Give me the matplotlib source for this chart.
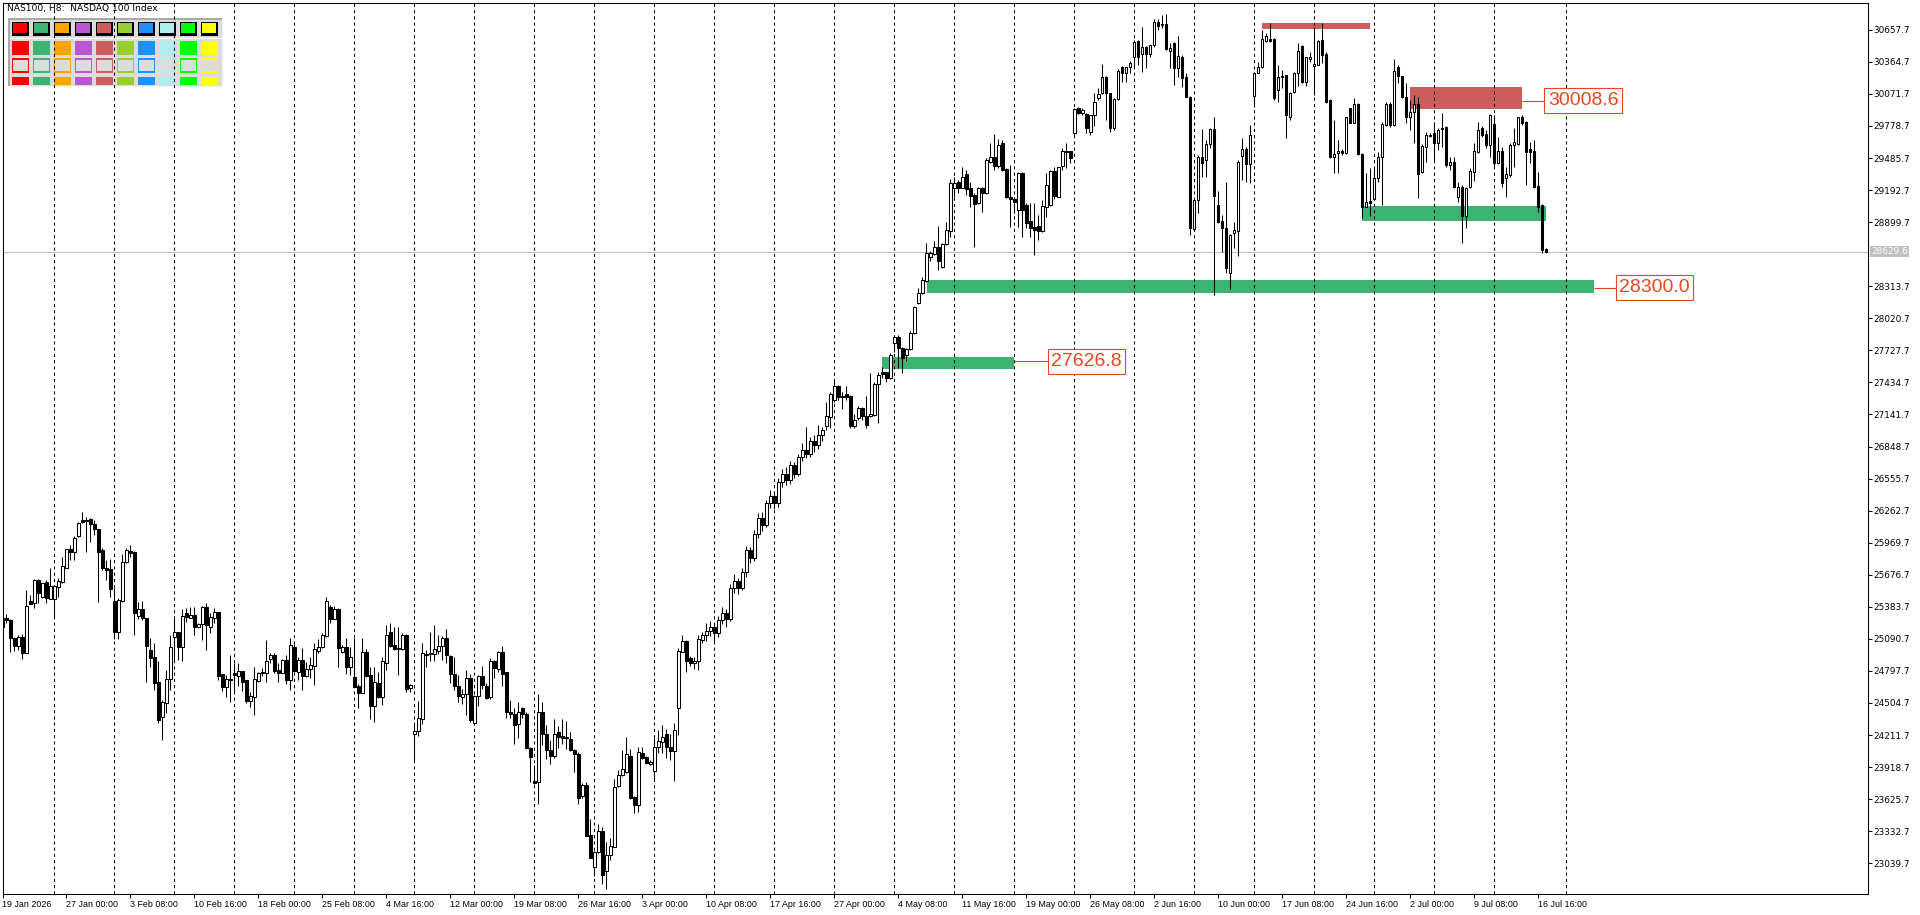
import numpy as np
import matplotlib
matplotlib.use("Agg")
import matplotlib.pyplot as plt
from matplotlib.patches import Rectangle
from matplotlib.transforms import blended_transform_factory

W, H, DPI = 1920, 915, 100

# ---------------- data (H8 candles, NAS100) ----------------
opens = [
25279, 25279, 25263, 25096, 25029, 25111, 24965, 25434, 25416, 25629,
25471, 25614, 25458, 25458, 25568, 25614, 25742, 25909, 25888, 26031,
26177, 26177, 26183, 26138, 26092, 25903, 25736, 25726, 25440, 25157,
25440, 25796, 25897, 25888, 25300, 25361, 25285, 24989, 24922, 24697,
24374, 24508, 24727, 25111, 25157, 25013, 25330, 25285, 25312, 25202,
25224, 25385, 25202, 25279, 25333, 24770, 24654, 24715, 24779, 24751,
24797, 24715, 24526, 24562, 24709, 24776, 24782, 24904, 24943, 24806,
24782, 24898, 24715, 25020, 24791, 24898, 24754, 24812, 24846, 24983,
25013, 25120, 25385, 25272, 25364, 24974, 25013, 24837, 24745, 24660,
24599, 24974, 24760, 24480, 24684, 24562, 24873, 25150, 25035, 25004,
24995, 25123, 24639, 24218, 24251, 24358, 24957, 24950, 24957, 24984,
25024, 25100, 24934, 24767, 24661, 24557, 24584, 24734, 24318, 24567,
24751, 24657, 24557, 24890, 24817, 24974, 24784, 24424, 24407, 24311,
24458, 24407, 24091, 23791, 23785, 24424, 24218, 24074, 24024, 24241,
24201, 24194, 24178, 24074, 24041, 23658, 23752, 23295, 23002, 23145,
23335, 22969, 23119, 23192, 23742, 23845, 23878, 24024, 23642, 23568,
24051, 24008, 23951, 23885, 24101, 24151, 24218, 24101, 24068, 24458,
24974, 25067, 24917, 24867, 24884, 25084, 25123, 25167, 25200, 25140,
25260, 25330, 25270, 25560, 25620, 25560, 25700, 25900, 25830, 26050,
26200, 26130, 26330, 26400, 26330, 26520, 26600, 26540, 26680, 26600,
26750, 26820, 26780, 26900, 26860, 26950, 27036, 27121, 27274, 27405,
27304, 27325, 27310, 27036, 27112, 27197, 27127, 27130, 27136, 27420,
27526, 27526, 27472, 27798, 27846, 27752, 27685, 27737, 27883, 28157,
28249, 28364, 28578, 28608, 28669, 28486, 28700, 28821, 29214, 29266,
29214, 29339, 29208, 29148, 29071, 29215, 29163, 29452, 29498, 29416,
29620, 29385, 29126, 29108, 29010, 29352, 29056, 28913, 28858, 28867,
28822, 29041, 29056, 29367, 29132, 29416, 29544, 29553, 29712, 29940,
29894, 29888, 29726, 29879, 30037, 30077, 30229, 30077, 29757, 30022,
30315, 30266, 30315, 30406, 30558, 30433, 30503, 30433, 30519, 30726,
30701, 30711, 30467, 30540, 30305, 30412, 30223, 30046, 28834, 29102,
29492, 29467, 29614, 29748, 29056, 28913, 28843, 28438, 28797, 28822,
29504, 29565, 29431, 30056, 30266, 30321, 30558, 30570, 30570, 30107,
30235, 30241, 29864, 30092, 30260, 30510, 30184, 30391, 30327, 30336,
30564, 30436, 30016, 29498, 29534, 29553, 29528, 29940, 29809, 29979,
29522, 29041, 29093, 29108, 29300, 29492, 29788, 29979, 29788, 30315,
30235, 30046, 29863, 29904, 29979, 29361, 29589, 29693, 29712, 29626,
29748, 29772, 29422, 29447, 29132, 29224, 28959, 29224, 29361, 29544,
29757, 29705, 29605, 29797, 29443, 29553, 29300, 29331, 29605, 29614,
29858, 29818, 29565, 29553, 29230, 29056, 28651,
]
highs = [
25309, 25315, 25269, 25111, 25126, 25135, 25538, 25492, 25635, 25635,
25605, 25629, 25736, 25574, 25644, 25842, 25915, 25949, 26031, 26162,
26247, 26208, 26199, 26177, 26092, 25918, 25812, 25818, 25553, 25461,
25867, 25918, 25949, 25894, 25431, 25437, 25285, 25096, 25050, 24885,
24532, 24806, 25126, 25279, 25157, 25361, 25370, 25385, 25385, 25239,
25391, 25416, 25324, 25370, 25339, 24770, 24760, 24943, 24867, 24873,
24797, 24715, 24608, 24837, 24791, 24821, 25081, 24959, 24959, 24867,
24907, 24943, 25096, 25044, 24928, 25004, 24882, 24928, 25050, 25087,
25141, 25477, 25400, 25391, 25376, 25035, 25096, 25020, 25096, 24678,
25096, 24995, 24837, 24837, 24791, 24928, 25218, 25233, 25202, 25202,
25141, 25132, 24678, 24324, 24524, 25050, 24990, 25150, 25217, 25123,
25117, 25183, 24940, 24927, 24757, 24634, 24807, 24767, 24574, 24757,
24840, 24684, 24917, 24900, 24984, 25024, 24790, 24534, 24458, 24511,
24468, 24418, 24101, 23941, 24584, 24511, 24301, 24168, 24358, 24291,
24358, 24344, 24244, 24085, 24058, 23778, 23785, 23445, 23152, 23402,
23369, 23235, 23275, 23811, 23891, 24074, 24191, 24085, 23658, 24101,
24101, 24024, 23985, 24184, 24258, 24308, 24268, 24218, 24318, 25007,
25123, 25084, 24934, 24924, 25123, 25157, 25233, 25250, 25230, 25300,
25380, 25360, 25590, 25680, 25650, 25740, 25940, 25930, 26090, 26240,
26250, 26360, 26450, 26430, 26560, 26640, 26660, 26720, 26710, 26780,
26880, 27030, 26940, 26950, 27045, 27030, 27258, 27350, 27450, 27411,
27350, 27405, 27319, 27143, 27219, 27213, 27310, 27517, 27441, 27533,
27572, 27533, 27700, 27868, 27868, 27761, 27746, 27907, 28133, 28294,
28401, 28712, 28636, 28730, 28864, 28712, 28904, 29291, 29315, 29285,
29400, 29376, 29269, 29163, 29224, 29224, 29483, 29620, 29705, 29656,
29650, 29391, 29422, 29132, 29361, 29361, 29071, 29071, 29071, 28965,
29102, 29352, 29376, 29407, 29407, 29574, 29620, 29553, 29940, 29955,
29940, 29894, 29879, 30077, 30123, 30342, 30235, 30083, 30031, 30296,
30327, 30321, 30372, 30564, 30564, 30686, 30510, 30519, 30753, 30753,
30793, 30799, 30540, 30549, 30601, 30427, 30266, 30052, 29108, 29513,
29748, 29650, 29757, 29857, 29187, 28965, 29269, 28788, 28904, 29467,
29672, 29589, 29787, 30275, 30366, 30656, 30625, 30717, 30580, 30336,
30290, 30244, 30092, 30275, 30540, 30519, 30412, 30458, 30686, 30564,
30723, 30458, 30025, 29833, 29650, 29565, 29864, 29940, 30031, 29985,
29528, 29346, 29391, 29397, 29544, 29818, 30000, 30000, 30388, 30336,
30235, 30169, 30016, 30062, 30046, 29614, 29726, 29712, 29818, 29757,
29894, 29778, 29498, 29498, 29269, 29239, 29224, 29392, 29620, 29818,
29778, 29742, 29885, 29879, 29681, 29589, 29407, 29620, 29757, 29863,
29879, 29827, 29635, 29650, 29361, 29065, 28660,
]
lows = [
25187, 25233, 24974, 24983, 24989, 24910, 24959, 25410, 25370, 25422,
25461, 25422, 25452, 25294, 25477, 25598, 25736, 25812, 25812, 26025,
26153, 25888, 25979, 26040, 25431, 25720, 25629, 25471, 25090, 25090,
25431, 25781, 25842, 25126, 25272, 25263, 24700, 24837, 24623, 24325,
24166, 24410, 24623, 24898, 24898, 24889, 25248, 25279, 25126, 25187,
25081, 24989, 25141, 25233, 24715, 24617, 24562, 24517, 24593, 24660,
24614, 24502, 24465, 24395, 24700, 24754, 24700, 24867, 24776, 24694,
24776, 24678, 24623, 24785, 24715, 24623, 24745, 24730, 24669, 24965,
25004, 25105, 25239, 25269, 24837, 24959, 24770, 24760, 24648, 24462,
24593, 24745, 24355, 24334, 24550, 24486, 24806, 25020, 24989, 24760,
24989, 24608, 24602, 23968, 24201, 24311, 24834, 24884, 24884, 24950,
24900, 24867, 24691, 24624, 24517, 24491, 24394, 24334, 24311, 24477,
24634, 24544, 24544, 24734, 24784, 24657, 24368, 24368, 24134, 24184,
24368, 24085, 23785, 23768, 23585, 24118, 23991, 23945, 24001, 24091,
24134, 24085, 24068, 23878, 23585, 23635, 23285, 23086, 22926, 23135,
22852, 22802, 23069, 23185, 23735, 23835, 23868, 23628, 23502, 23512,
23991, 23945, 23941, 23801, 24051, 24051, 24001, 23985, 23791, 24211,
24967, 24784, 24844, 24817, 24810, 25050, 25067, 25120, 25060, 25110,
25230, 25200, 25250, 25510, 25500, 25540, 25660, 25780, 25800, 26010,
26080, 26110, 26290, 26280, 26300, 26480, 26500, 26510, 26560, 26580,
26720, 26740, 26750, 26800, 26830, 26900, 27000, 27015, 27258, 27274,
27188, 27274, 27015, 27015, 27091, 27091, 27015, 27121, 27127, 27060,
27472, 27435, 27462, 27709, 27563, 27517, 27633, 27731, 27877, 28151,
28243, 28355, 28547, 28599, 28462, 28477, 28690, 28767, 29132, 29169,
29208, 29147, 29041, 28669, 29065, 28995, 29157, 29443, 29376, 29391,
29370, 29117, 28858, 28980, 28858, 28761, 28843, 28761, 28599, 28736,
28812, 28949, 29047, 29108, 29126, 29376, 29391, 29437, 29696, 29888,
29879, 29717, 29696, 29778, 30016, 30068, 29833, 29726, 29742, 30016,
30184, 30184, 30260, 30321, 30336, 30275, 30305, 30412, 30503, 30656,
30671, 30473, 30305, 30153, 30223, 30138, 30040, 28782, 28828, 28980,
29315, 29315, 29574, 28233, 28895, 28630, 28431, 28285, 28660, 28590,
29285, 29269, 29254, 29955, 30260, 30305, 30549, 30549, 30016, 30001,
30123, 29666, 29833, 30083, 30144, 30174, 30144, 30366, 30062, 30336,
30351, 29992, 29483, 29346, 29352, 29513, 29522, 29803, 29803, 29513,
28934, 29035, 28956, 29102, 29269, 29056, 29778, 29772, 29778, 30169,
30032, 29803, 29742, 29620, 29118, 29352, 29452, 29675, 29468, 29559,
29589, 29407, 29376, 29209, 29087, 28712, 28843, 29209, 29278, 29529,
29675, 29575, 29498, 29407, 29428, 29224, 29132, 29315, 29407, 29605,
29788, 29239, 29437, 29209, 28995, 28615, 28620,
]
closes = [
25202, 25263, 25096, 25029, 25105, 24965, 25391, 25413, 25629, 25507,
25598, 25461, 25574, 25574, 25620, 25757, 25909, 25888, 26016, 26147,
26162, 26168, 26138, 26092, 25888, 25736, 25720, 25544, 25157, 25446,
25793, 25903, 25879, 25330, 25361, 25279, 25029, 24919, 24690, 24349,
24517, 24727, 25020, 25150, 25013, 25300, 25288, 25312, 25196, 25227,
25385, 25218, 25288, 25339, 24751, 24654, 24724, 24724, 24757, 24797,
24694, 24526, 24569, 24721, 24782, 24788, 24889, 24943, 24800, 24782,
24898, 24715, 25035, 24800, 24898, 24754, 24815, 24852, 24995, 25020,
25126, 25440, 25272, 25364, 25004, 25020, 24837, 24922, 24654, 24599,
24974, 24751, 24480, 24700, 24562, 24889, 25126, 25029, 24995, 24995,
25123, 24633, 24669, 24251, 24368, 24960, 24947, 24964, 24997, 25027,
25100, 24940, 24767, 24657, 24567, 24584, 24734, 24351, 24567, 24751,
24667, 24551, 24890, 24824, 24974, 24767, 24418, 24401, 24308, 24424,
24401, 24091, 24008, 23778, 24418, 24218, 24074, 24024, 24218, 24194,
24184, 24188, 24078, 24034, 23635, 23752, 23292, 23092, 23145, 23335,
22936, 23119, 23202, 23735, 23851, 23901, 24034, 23635, 23568, 24058,
24001, 23958, 23968, 24101, 24158, 24194, 24101, 24068, 24258, 24984,
25067, 24890, 24867, 24890, 25090, 25123, 25167, 25200, 25140, 25260,
25330, 25270, 25560, 25620, 25560, 25700, 25900, 25830, 26050, 26200,
26130, 26330, 26400, 26330, 26520, 26600, 26540, 26680, 26600, 26750,
26820, 26780, 26900, 26860, 26950, 27000, 27127, 27328, 27405, 27304,
27310, 27304, 27036, 27091, 27197, 27127, 27045, 27146, 27420, 27502,
27511, 27472, 27685, 27846, 27746, 27655, 27737, 27883, 28121, 28249,
28370, 28614, 28614, 28669, 28547, 28700, 28828, 29254, 29260, 29214,
29309, 29199, 29138, 29065, 29215, 29163, 29467, 29498, 29416, 29605,
29376, 29126, 29108, 29087, 29346, 29010, 28895, 28849, 28828, 28822,
29047, 29239, 29367, 29138, 29400, 29550, 29553, 29483, 29931, 29894,
29925, 29757, 29879, 30001, 30068, 30223, 30083, 29757, 30025, 30281,
30266, 30315, 30351, 30549, 30406, 30503, 30433, 30519, 30732, 30695,
30711, 30482, 30488, 30305, 30418, 30220, 30046, 28849, 29102, 29492,
29437, 29614, 29748, 29142, 28904, 28843, 28477, 28782, 28828, 29452,
29565, 29431, 29696, 30266, 30321, 30570, 30601, 30558, 30031, 30229,
30223, 29879, 30083, 30260, 30467, 30184, 30406, 30406, 30345, 30558,
30427, 30001, 29498, 29522, 29553, 29528, 29857, 29809, 29976, 29522,
29041, 29087, 29071, 29300, 29492, 29797, 29979, 29788, 30281, 30235,
30046, 29858, 29904, 29979, 29340, 29596, 29696, 29687, 29626, 29742,
29760, 29422, 29452, 29218, 29224, 28959, 29215, 29367, 29550, 29742,
29696, 29605, 29879, 29443, 29553, 29255, 29340, 29605, 29635, 29858,
29809, 29544, 29544, 29224, 29041, 28645, 28630,
]

x_tick_labels = ["19 Jan 2026", "27 Jan 00:00", "3 Feb 08:00", "10 Feb 16:00", "18 Feb 00:00",
                 "25 Feb 08:00", "4 Mar 16:00", "12 Mar 00:00", "19 Mar 08:00", "26 Mar 16:00",
                 "3 Apr 00:00", "10 Apr 08:00", "17 Apr 16:00", "27 Apr 00:00", "4 May 08:00",
                 "11 May 16:00", "19 May 00:00", "26 May 08:00", "2 Jun 16:00", "10 Jun 00:00",
                 "17 Jun 08:00", "24 Jun 16:00", "2 Jul 00:00", "9 Jul 08:00", "16 Jul 16:00"]
x_tick_bars = [0, 16, 32, 48, 64, 80, 96, 112, 128, 144, 160, 176, 192, 208, 224,
               240, 256, 272, 288, 304, 320, 336, 352, 368, 384]
grid_bars = [13, 28, 43, 58, 73, 88, 103, 118, 133, 148, 163, 178, 193, 208, 223,
             238, 253, 268, 283, 298, 313, 328, 343, 358, 373, 391]
y_ticks = [23039.7, 23332.7, 23625.7, 23918.7, 24211.7, 24504.7, 24797.7, 25090.7,
           25383.7, 25676.7, 25969.7, 26262.7, 26555.7, 26848.7, 27141.7, 27434.7,
           27727.7, 28020.7, 28313.7, 28899.7, 29192.7, 29485.7, 29778.7, 30071.7,
           30364.7, 30657.7]
current_price = 28629.6

# zones: (start bar, end bar, low price, high price, colour)
zones = [
    (315.0, 342.0, 30665, 30723, "#CD5C5C"),
    (352.0, 380.0, 29935, 30133, "#CD5C5C"),
    (340.0, 386.0, 28913, 29047, "#3CB371"),
    (231.1, 397.9, 28255, 28371, "#3CB371"),
    (219.9, 252.9, 27557, 27670, "#3CB371"),
]
# price tags: (value, tag centre bar, connector from bar, connector to bar)
price_tags = [
    (30008.6, 395.2, 380.0, 385.5),
    (28300.0, 413.0, 397.9, 403.4),
    (27626.8, 271.0, 252.9, 261.7),
]
panel_colors = ["#FF0000", "#3CB371", "#FFA500", "#BA55D3", "#CD5C5C",
                "#9ACD32", "#1E90FF", "#AFEEEE", "#00FF00", "#FFFF00"]

# ---------------- figure ----------------
O = np.array(opens, float); Hh = np.array(highs, float)
Lw = np.array(lows, float); C = np.array(closes, float)
Hh = np.maximum(Hh, np.maximum(O, C)); Lw = np.minimum(Lw, np.minimum(O, C))
n = len(C)
idx = np.arange(n)

fig = plt.figure(figsize=(W / DPI, H / DPI), dpi=DPI, facecolor="white")
Lp, Rp, Tp, Bp = 2.5, 1867.5, 2.5, 894.0
ax = fig.add_axes([Lp / W, 1 - Bp / H, (Rp - Lp) / W, (Bp - Tp) / H])
ax.set_facecolor("white")
x0 = (Lp - 2.33) / 4.0
ax.set_xlim(x0, x0 + (Rp - Lp) / 4.0)
ax.set_ylim(22759, 30907)

# zones
for (a, b, lo, hi, col) in zones:
    ax.add_patch(Rectangle((a, lo), b - a, hi - lo, facecolor=col, edgecolor="none", zorder=1))

# current price line
ax.axhline(current_price, color="#C0C0C0", lw=0.8, zorder=1.5)

# grid
for g in grid_bars:
    ax.axvline(g, color="black", lw=0.75, ls=(0, (3, 3)), zorder=2)

# candles
up = C >= O
ax.vlines(idx, Lw, Hh, colors="black", linewidth=0.75, zorder=3)
ax.bar(idx, np.abs(C - O), bottom=np.minimum(O, C), width=0.55,
       color=np.where(up, "white", "black"), edgecolor="black", linewidth=0.75, zorder=4)

# price tags
tag_col = "#E8461E"
bw = 19.35   # bars
bh = 232.0   # price units
for (val, cx, l0, l1) in price_tags:
    ax.plot([l0, l1], [val, val], color=tag_col, lw=0.8, zorder=5, solid_capstyle="butt")
    ax.add_patch(Rectangle((cx - bw / 2, val - bh / 2), bw, bh, facecolor="white",
                           edgecolor=tag_col, lw=0.8, zorder=6))
    ax.text(cx, val, f"{val:.1f}", ha="center", va="center", fontsize=14,
            family="Liberation Sans", color=tag_col, zorder=7)

# axes styling
for s in ax.spines.values():
    s.set_color("black"); s.set_linewidth(0.75)
ax.yaxis.tick_right()
ax.set_yticks(y_ticks)
ax.set_yticklabels([f"{v:.1f}" for v in y_ticks], family="DejaVu Sans", fontsize=6.4)
ax.tick_params(axis="y", direction="out", length=3, width=0.75, pad=1, colors="black")
ax.set_xticks(x_tick_bars)
ax.set_xticklabels(x_tick_labels, ha="left", family="Liberation Sans", fontsize=6.4)
ax.tick_params(axis="x", direction="out", length=3, width=0.75, pad=1.5, colors="black")
ax.minorticks_off()

# current price tag on axis
tr = blended_transform_factory(ax.transAxes, ax.transData)
axw = Rp - Lp
tx = (1870 - Lp) / axw
tw = 39 / axw
ax.add_patch(Rectangle((tx, current_price - 50.3), tw, 100.5, transform=tr, facecolor="#C0C0C0",
                       edgecolor="none", clip_on=False, zorder=6))
ax.text(tx + tw / 2, current_price, f"{current_price:.1f}", transform=tr, ha="center",
        va="center", color="white", family="DejaVu Sans", fontsize=6.4, zorder=7, clip_on=False)

# ---------------- top-left colour panel & title ----------------
def rpx(x, y, w, h, **kw):
    r = Rectangle((x / W, 1 - (y + h) / H), w / W, h / H, transform=fig.transFigure,
                  clip_on=False, **kw)
    ax.add_patch(r)
    return r

pz = 1.8
rpx(8.3, 17.7, 214.4, 69.6, facecolor="#DCDCDC", edgecolor="none", zorder=pz)
rpx(8.3, 17.7, 214.4, 2.3, facecolor="#A9A9A9", edgecolor="none", zorder=pz)
rpx(8.3, 17.7, 1.7, 69.6, facecolor="#A9A9A9", edgecolor="none", zorder=pz)
rpx(221.7, 17.7, 1.0, 69.6, facecolor="#F4F4F4", edgecolor="none", zorder=pz)
rpx(8.3, 86.3, 214.4, 1.0, facecolor="#F4F4F4", edgecolor="none", zorder=pz)
rpx(10.0, 37.8, 211.7, 1.3, facecolor="white", edgecolor="none", zorder=pz)
for k, col in enumerate(panel_colors):
    xk = 11.7 + 21.0 * k
    rpx(xk, 21.7, 17.3, 14.6, facecolor="black", edgecolor="none", zorder=pz + 0.01)
    rpx(xk + 1.7, 23.3, 14.0, 10.0, facecolor=col, edgecolor="none", zorder=pz + 0.02)
    rpx(xk, 40.7, 17.7, 14.3, facecolor=col, edgecolor="none", zorder=pz + 0.01)
    rpx(xk, 58.3, 17.7, 14.4, facecolor=col, edgecolor="none", zorder=pz + 0.01)
    rpx(xk + 1.6, 59.9, 14.5, 11.2, facecolor="#DCDCDC", edgecolor="none", zorder=pz + 0.02)
    rpx(xk, 76.7, 17.7, 8.3, facecolor=col, edgecolor="none", zorder=pz + 0.01)

ax.text(7 / W, 1 - 9 / H, "NAS100, H8:  NASDAQ 100 Index", transform=fig.transFigure,
        ha="left", va="center", fontsize=6.6, family="DejaVu Sans", color="black",
        zorder=1.9, clip_on=False)

fig.savefig("out.png", dpi=DPI, facecolor="white")
